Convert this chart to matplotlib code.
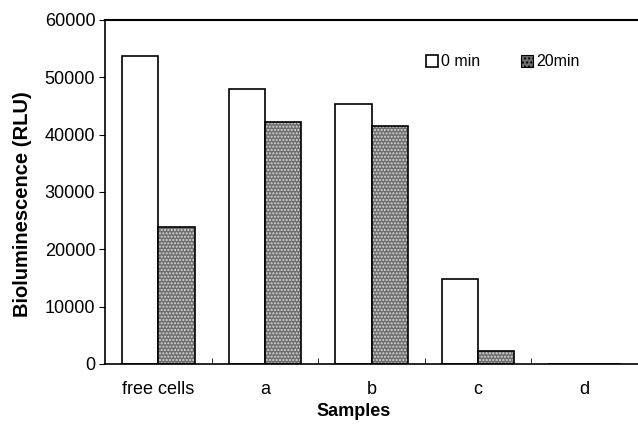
import numpy as np
import matplotlib
matplotlib.use('Agg')
import matplotlib.pyplot as plt

plt.rcParams['font.family'] = ['Liberation Sans', 'DejaVu Sans']

samples = ['free cells', 'a', 'b', 'c', 'd']
min0 = [53700, 48000, 45300, 14800, 0]
min20 = [23900, 42200, 41500, 2300, 0]

fig = plt.figure(figsize=(6.38, 4.28), dpi=100)
ax = fig.add_axes([105/638, 1-364/428, 533/638, 344/428])

x = np.arange(len(samples))
w = 0.34
ax.bar(x - w/2, min0, w, color='white', edgecolor='black', linewidth=1.2, label='0 min')
# stippled grey for 20 min: hatch layer then outline
ax.bar(x + w/2, min20, w, color='#6e6e6e', edgecolor='#d8d8d8', hatch='.....', linewidth=0)
ax.bar(x + w/2, min20, w, color='none', edgecolor='black', linewidth=1.2)
ax.bar([0], [0], 0, color='#6e6e6e', edgecolor='black', hatch='....', linewidth=0.8, label='20min')

ax.set_xlim(-0.5, 4.5)
ax.set_ylim(0, 60000)
ax.set_yticks(range(0, 60001, 10000))
ax.set_xticks(x)
ax.set_xticklabels(samples)
ax.set_xticks(np.arange(0.5, 4.5, 1), minor=True)
ax.tick_params(axis='x', which='major', length=0, labelsize=13, pad=12)
ax.tick_params(axis='x', which='minor', direction='in', length=4)
ax.tick_params(axis='y', direction='out', length=4, labelsize=13, pad=3)
ax.spines['right'].set_visible(False)
ax.spines['top'].set_linewidth(1.5)
ax.spines['left'].set_linewidth(1.2)
ax.spines['bottom'].set_linewidth(1.2)

ax.set_xlabel('Samples', fontsize=13, fontweight='bold')
ax.xaxis.set_label_coords((354 - 105) / 533, -39 / 344)
ax.set_ylabel('Bioluminescence (RLU)', fontsize=14.5, fontweight='bold')
ax.yaxis.set_label_coords(-73 / 533, 0.5 - 12 / 344)

ax.legend(loc='center left', bbox_to_anchor=((420 - 105) / 533, 1 - 42 / 344), ncol=2,
          frameon=False, fontsize=11.5, handlelength=0.7, handleheight=0.7,
          handletextpad=0.2, columnspacing=2.6, borderaxespad=0)

fig.savefig('out.png', dpi=100)
